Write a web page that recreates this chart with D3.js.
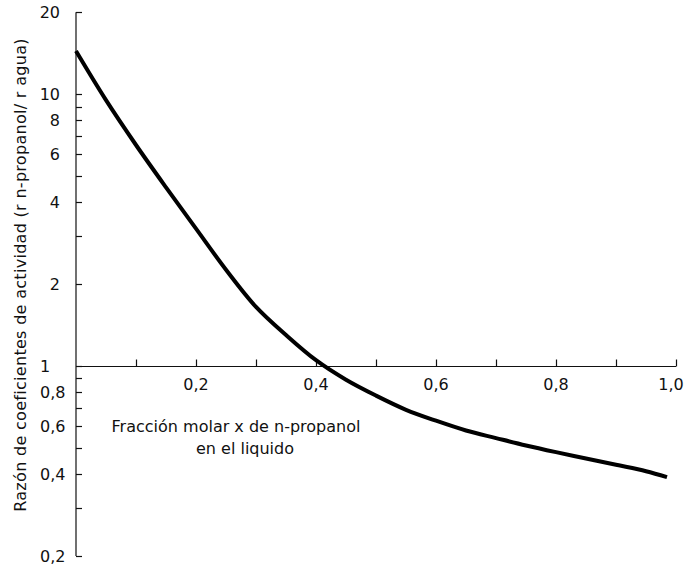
<!DOCTYPE html>
<html>
<head>
<meta charset="utf-8">
<script src="https://cdn.jsdelivr.net/npm/d3@7/dist/d3.min.js"></script>
<style>
  html, body { margin: 0; padding: 0; background: #fff; }
  svg { display: block; }
  text { font-family: "DejaVu Sans", sans-serif; fill: #111; }
</style>
</head>
<body>
<svg id="chart" width="685" height="569"></svg>
<script>
// Ratio of activity coefficients vs. mole fraction of n-propanol in the liquid
const moleFraction = [0, 0.05, 0.10, 0.15, 0.20, 0.25, 0.30, 0.35, 0.40, 0.45, 0.50,
                      0.55, 0.60, 0.65, 0.70, 0.75, 0.80, 0.85, 0.90, 0.95, 0.985];
const gammaRatio   = [14.4, 9.5, 6.5, 4.54, 3.2, 2.26, 1.65, 1.30, 1.05, 0.89, 0.778,
                      0.69, 0.629, 0.579, 0.543, 0.51, 0.482, 0.457, 0.433, 0.41, 0.39];

const xTickValues = [0.1, 0.2, 0.3, 0.4, 0.5, 0.6, 0.7, 0.8, 0.9, 1.0];
const xTickLabels = [0.2, 0.4, 0.6, 0.8, 1.0];
const yTickValues = [0.2, 0.3, 0.4, 0.5, 0.6, 0.7, 0.8, 0.9, 1, 2, 3, 4, 5, 6, 7, 8, 9, 10, 20];
const yLabelsAbove = [2, 4, 6, 8, 10, 20];
const yLabelsBelow = [0.2, 0.4, 0.6, 0.8, 1];

const xTitle = ["Fracción molar x de n-propanol", "en el liquido"];
const yTitle = "Razón de coeficientes de actividad (r n-propanol/ r agua)";

const svg = d3.select("#chart");
const W = +svg.attr("width");
const es = d3.formatLocale({ decimal: ",", thousands: ".", grouping: [3], currency: ["", "€"] });
const fmt1 = es.format(".1f");

const x = d3.scaleLinear().domain([0, 1]).range([76, 676]);
const y = d3.scaleLog().domain([0.2, 20]).range([556, 12.3]);

const ink = "#111";

// vertical axis with ticks pointing into the plot
const yAxisG = svg.append("g").attr("transform", `translate(${x(0)},0)`);
yAxisG.append("line")
  .attr("x1", 0).attr("x2", 0)
  .attr("y1", y(20)).attr("y2", y(0.2))
  .attr("stroke", ink).attr("stroke-width", 1.2);
yAxisG.selectAll("line.tick").data(yTickValues).join("line")
  .attr("class", "tick")
  .attr("x1", 0).attr("x2", 6)
  .attr("y1", d => Math.round(y(d)) + 0.5).attr("y2", d => Math.round(y(d)) + 0.5)
  .attr("stroke", ink).attr("stroke-width", 1.2);

svg.selectAll("text.ylab-hi").data(yLabelsAbove).join("text")
  .attr("class", "ylab-hi")
  .attr("x", 60).attr("y", d => y(d))
  .attr("dy", "0.36em")
  .attr("text-anchor", "end")
  .attr("font-size", 16)
  .text(d => d3.format("d")(d));

svg.selectAll("text.ylab-lo").data(yLabelsBelow).join("text")
  .attr("class", "ylab-lo")
  .attr("x", 40).attr("y", d => y(d))
  .attr("dy", "0.36em")
  .attr("text-anchor", "start")
  .attr("font-size", 16)
  .text(d => d === 1 ? "1" : fmt1(d));

// horizontal axis crossing at a ratio of 1
const xAxisG = svg.append("g").attr("transform", `translate(0,${Math.round(y(1)) + 0.5})`);
xAxisG.append("line")
  .attr("x1", x(0)).attr("x2", x(1))
  .attr("y1", 0).attr("y2", 0)
  .attr("stroke", ink).attr("stroke-width", 1.2);
xAxisG.selectAll("line.tick").data(xTickValues).join("line")
  .attr("class", "tick")
  .attr("x1", d => Math.round(x(d)) + 0.5).attr("x2", d => Math.round(x(d)) + 0.5)
  .attr("y1", 0).attr("y2", -7)
  .attr("stroke", ink).attr("stroke-width", 1.2);
xAxisG.selectAll("text").data(xTickLabels).join("text")
  .attr("x", d => Math.min(x(d), W - 14))
  .attr("y", 23)
  .attr("text-anchor", "middle")
  .attr("font-size", 16)
  .text(d => fmt1(d));

// curve
const line = d3.line()
  .x((d, i) => x(moleFraction[i]))
  .y(d => y(d))
  .curve(d3.curveCatmullRom.alpha(0.5));
svg.append("path")
  .datum(gammaRatio)
  .attr("d", line)
  .attr("fill", "none")
  .attr("stroke", "#000")
  .attr("stroke-width", 4)
  .attr("stroke-linejoin", "round");

// axis titles
svg.append("text")
  .attr("x", 236).attr("y", 432)
  .attr("text-anchor", "middle")
  .attr("font-size", 16)
  .text(xTitle[0]);
svg.append("text")
  .attr("x", 245).attr("y", 454)
  .attr("text-anchor", "middle")
  .attr("font-size", 16)
  .text(xTitle[1]);

svg.append("text")
  .attr("transform", "translate(26,275) rotate(-90)")
  .attr("text-anchor", "middle")
  .attr("font-size", 16)
  .attr("letter-spacing", 0.3)
  .text(yTitle);
</script>
</body>
</html>
